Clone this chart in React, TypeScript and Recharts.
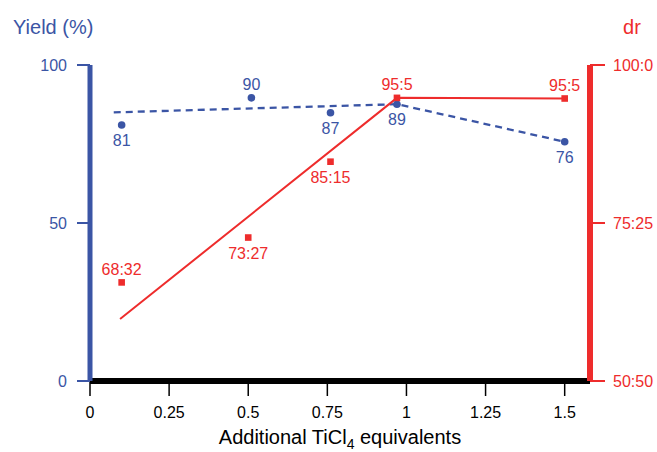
import React from "react";
import { ComposedChart, XAxis, YAxis, Line, Scatter } from "recharts";

const BLUE = "#3b55a5";
const RED = "#ee2c2c";
const FONT = "'Liberation Sans', Arial, Helvetica, sans-serif";

const xTicks = [0, 0.25, 0.5, 0.75, 1, 1.25, 1.5];
const yieldTicks = [0, 50, 100];
const drTicks = [50, 75, 100];

// measured points
const yieldX = [0.1, 0.51, 0.76, 0.97, 1.5];
const yieldY = [81, 89.6, 84.9, 87.6, 75.7];
const yieldLabels = ["81", "90", "87", "89", "76"];
const yieldLabelBelow = [true, false, true, true, true];

const drX = [0.1, 0.5, 0.76, 0.97, 1.5];
const drY = [65.6, 72.7, 84.7, 94.8, 94.7];
const drLabels = ["68:32", "73:27", "85:15", "95:5", "95:5"];
const drLabelBelow = [false, true, true, false, false];

// trend lines
const yieldTrendX = [0.075, 0.97, 1.5];
const yieldTrendY = [85, 87.6, 75.7];
const drTrendX = [0.095, 0.97, 1.5];
const drTrendY = [59.8, 94.8, 94.7];

const yieldPoints = yieldX.map((x, i) => ({ x, y: yieldY[i], label: yieldLabels[i], below: yieldLabelBelow[i] }));
const drPoints = drX.map((x, i) => ({ x, y: drY[i], label: drLabels[i], below: drLabelBelow[i] }));
const yieldTrend = yieldTrendX.map((x, i) => ({ x, y: yieldTrendY[i] }));
const drTrend = drTrendX.map((x, i) => ({ x, y: drTrendY[i] }));

const YieldDot = (props: any) => {
  const { cx, cy, payload } = props;
  return (
    <g>
      <circle cx={cx} cy={cy} r={3.8} fill={BLUE} />
      <text x={cx} y={payload.below ? cy + 21 : cy - 7.5} textAnchor="middle" fill={BLUE} fontSize={16} fontFamily={FONT}>
        {payload.label}
      </text>
    </g>
  );
};

const DrSquare = (props: any) => {
  const { cx, cy, payload } = props;
  return (
    <g>
      <rect x={cx - 3.3} y={cy - 3.3} width={6.6} height={6.6} fill={RED} />
      <text x={cx} y={payload.below ? cy + 21 : cy - 7.5} textAnchor="middle" fill={RED} fontSize={16} fontFamily={FONT}>
        {payload.label}
      </text>
    </g>
  );
};

function App() {
  return (
    <div style={{ position: "absolute", left: 0, top: 0, background: "#fff" }}>
      <ComposedChart width={657} height={452} margin={{ top: 65, right: 0, bottom: 0, left: 0 }}>
        <XAxis
          type="number"
          dataKey="x"
          domain={[0, 1.58]}
          ticks={xTicks}
          allowDataOverflow
          height={71}
          axisLine={{ stroke: "#000", strokeWidth: 6 }}
          tickLine={{ stroke: "#000", strokeWidth: 1.5 }}
          tickSize={15}
          tickMargin={11}
          tick={{ fill: "#000", fontSize: 16, fontFamily: FONT }}
          label={{
            content: (p: any) => {
              const vb = p.viewBox;
              return (
                <text x={vb.x + vb.width / 2} y={vb.y + 63} textAnchor="middle" fill="#000" fontSize={20} fontFamily={FONT}>
                  Additional TiCl
                  <tspan dy={5} fontSize={14}>4</tspan>
                  <tspan dy={-5}> equivalents</tspan>
                </text>
              );
            },
          }}
        />
        <YAxis
          yAxisId="left"
          dataKey="y"
          domain={[0, 100]}
          ticks={yieldTicks}
          allowDataOverflow
          width={90}
          axisLine={{ stroke: BLUE, strokeWidth: 5 }}
          tickLine={{ stroke: BLUE, strokeWidth: 2 }}
          tickSize={13}
          tickMargin={10}
          tick={{ fill: BLUE, fontSize: 16, fontFamily: FONT }}
          label={{
            content: () => (
              <text x={13} y={34} fill={BLUE} fontSize={20} fontFamily={FONT}>
                Yield (%)
              </text>
            ),
          }}
        />
        <YAxis
          yAxisId="right"
          orientation="right"
          dataKey="y"
          domain={[50, 100]}
          ticks={drTicks}
          allowDataOverflow
          width={67}
          axisLine={{ stroke: RED, strokeWidth: 6 }}
          tickLine={{ stroke: RED, strokeWidth: 2 }}
          tickSize={15}
          tickMargin={8}
          tickFormatter={(v: number) => `${v}:${100 - v}`}
          tick={{ fill: RED, fontSize: 16, fontFamily: FONT }}
          label={{
            content: () => (
              <text x={632} y={34} textAnchor="middle" fill={RED} fontSize={20} fontFamily={FONT}>
                dr
              </text>
            ),
          }}
        />
        <Line
          yAxisId="left"
          data={yieldTrend}
          dataKey="y"
          type="linear"
          stroke={BLUE}
          strokeWidth={2.3}
          strokeDasharray="7 5"
          dot={false}
          activeDot={false}
          isAnimationActive={false}
        />
        <Line
          yAxisId="right"
          data={drTrend}
          dataKey="y"
          type="linear"
          stroke={RED}
          strokeWidth={2}
          dot={false}
          activeDot={false}
          isAnimationActive={false}
        />
        <Scatter yAxisId="left" data={yieldPoints} dataKey="y" shape={YieldDot} isAnimationActive={false} />
        <Scatter yAxisId="right" data={drPoints} dataKey="y" shape={DrSquare} isAnimationActive={false} />
      </ComposedChart>
    </div>
  );
}

export default App;
